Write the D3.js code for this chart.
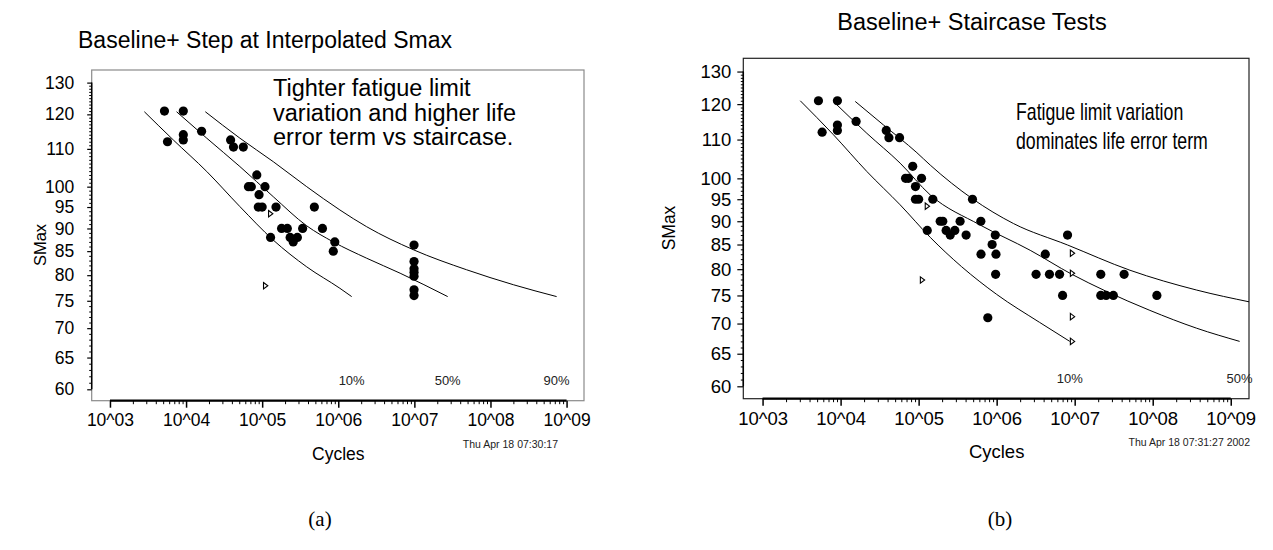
<!DOCTYPE html>
<html>
<head>
<meta charset="utf-8">
<script src="https://cdn.jsdelivr.net/npm/d3@7"></script>
<style>
  body { margin: 0; background: #fff; }
  svg { display: block; font-family: "Liberation Sans", Arial, sans-serif; }
</style>
</head>
<body>
<svg id="chart" width="1273" height="550"></svg>
<script>
// axis ticks
const xTickValues = [1e3, 1e4, 1e5, 1e6, 1e7, 1e8, 1e9];
const xTickLabels = ["10^03", "10^04", "10^05", "10^06", "10^07", "10^08", "10^09"];
const yTickValues = [60, 65, 70, 75, 80, 85, 90, 95, 100, 110, 120, 130];

// (a) step at interpolated Smax : failures [cycles, Smax]
const stepFailures = [
  [5.2e3, 121], [5.7e3, 112], [9.2e3, 121], [9.2e3, 114], [9.2e3, 112.5],
  [1.6e4, 115], [3.85e4, 112.5], [4.2e4, 110.5], [5.65e4, 110.5], [8.5e4, 103],
  [6.6e4, 100], [7.2e4, 100], [1.09e5, 100], [9.1e4, 98], [8.9e4, 95], [1.0e5, 95],
  [1.52e5, 95], [1.29e5, 88], [1.8e5, 90], [2.14e5, 90], [2.33e5, 88], [2.56e5, 87],
  [2.9e5, 88], [3.4e5, 90], [4.85e5, 95], [6.2e5, 90], [9.0e5, 87], [8.6e5, 85],
  [9.9e6, 86.3], [9.9e6, 82.8], [9.9e6, 81.3], [9.9e6, 80.6], [9.9e6, 79.8],
  [9.9e6, 77.1], [9.9e6, 76.0]
];
const stepRunouts = [[1.27e5, 93.4], [1.09e5, 77.9]];
const stepCurve10 = [[2.83e3, 120.8], [6.8e3, 112.5], [1.87e4, 103.9], [5.1e4, 95.1], [1.4e5, 87.4], [3.85e5, 81.7], [1.05e6, 77.4], [1.5e6, 75.8]];
const stepCurve50 = [[7.5e3, 120.8], [1.87e4, 113.0], [5.1e4, 105.2], [1.4e5, 97.5], [3.85e5, 90.6], [8.6e5, 87.0], [2.36e6, 83.5], [6.5e6, 80.4], [2.74e7, 75.8]];
const stepCurve90 = [[1.79e4, 120.8], [5.1e4, 113.0], [1.4e5, 106.5], [3.85e5, 100.0], [1.05e6, 94.3], [2.36e6, 90.4], [9.7e6, 85.3], [4.86e7, 81.1], [2.0e8, 78.1], [7.4e8, 75.8]];
const stepCurveLabels = ["10%", "50%", "90%"];

// (b) staircase tests
const stairFailures = [
  [5.2e3, 121], [5.8e3, 112], [9.1e3, 121], [9.1e3, 114], [9.1e3, 112.5],
  [1.58e4, 115], [3.85e4, 112.5], [4.16e4, 110.5], [5.7e4, 110.5], [8.4e4, 103],
  [6.8e4, 100], [7.4e4, 100], [1.09e5, 100], [9.1e4, 98], [9.1e4, 95], [1.0e5, 95],
  [1.52e5, 95], [1.29e5, 88], [1.89e5, 90], [2.04e5, 90], [2.25e5, 88], [2.54e5, 87],
  [2.91e5, 88], [3.4e5, 90], [4.06e5, 87], [4.9e5, 95], [6.27e5, 90], [9.6e5, 87],
  [8.75e5, 85], [6.3e5, 83], [9.8e5, 83], [9.7e5, 79], [7.7e5, 71],
  [4.2e6, 83], [8.1e6, 87], [3.2e6, 79], [4.75e6, 79], [6.4e6, 79], [7.0e6, 75],
  [2.16e7, 79], [4.3e7, 79], [2.16e7, 75], [2.53e7, 75], [3.13e7, 75], [1.13e8, 75]
];
const stairRunouts = [[1.27e5, 93.4], [1.1e5, 77.9], [9.2e6, 83.2], [9.2e6, 79.2], [9.2e6, 71.2], [9.2e6, 67.0]];
const stairCurve10 = [[3.04e3, 121.0], [8.1e3, 111.3], [2.17e4, 101.7], [5.8e4, 93.7], [1.41e5, 86.5], [3.55e5, 80.5], [1.0e6, 75.2], [3.55e6, 70.2], [8.65e6, 67.0]];
const stairCurve50 = [[8.5e3, 120.3], [2.17e4, 111.7], [5.8e4, 103.8], [1.41e5, 96.0], [6.1e5, 89.2], [2.69e6, 83.8], [9.2e6, 79.0], [2.51e7, 75.8], [9.2e7, 72.3], [3.66e8, 69.2], [1.3e9, 67.0]];
const stairCurve90 = [[1.54e4, 120.8], [3.55e4, 114.0], [9.5e4, 106.5], [1.41e5, 103.3], [4.9e5, 95.1], [1.64e6, 89.5], [8.1e6, 84.9], [5.1e7, 79.8], [3.66e8, 76.0], [1.77e9, 73.8]];
const stairCurveLabels = ["10%", "50%"];

const svg = d3.select("#chart");

function drawPanel(p) {
  const x = d3.scaleLog().domain(p.xDomain).range([p.left, p.right]);
  const y = d3.scaleLog().domain(p.yDomain).range([p.bottom, p.top]);
  const g = svg.append("g");

  const clipId = "clip-" + p.id;
  g.append("clipPath").attr("id", clipId)
    .append("rect")
    .attr("x", p.left).attr("y", p.top)
    .attr("width", p.right - p.left).attr("height", p.bottom - p.top);

  // frame
  g.append("rect")
    .attr("x", p.left).attr("y", p.top)
    .attr("width", p.right - p.left).attr("height", p.bottom - p.top)
    .attr("fill", "none")
    .attr("stroke", p.frameColor)
    .attr("stroke-width", 1.2);

  // x axis : major + minor log ticks
  const minorX = [];
  for (let k = 3; k < 9; k++) for (let m = 2; m <= 9; m++) minorX.push(m * Math.pow(10, k));

  const xMajor = g.append("g")
    .attr("transform", `translate(0,${p.bottom})`)
    .call(d3.axisBottom(x).tickValues(xTickValues)
      .tickFormat((d, i) => xTickLabels[i]).tickSize(7).tickPadding(6));
  xMajor.select(".domain").remove();
  xMajor.selectAll(".tick line").attr("stroke", "#000").attr("stroke-width", 1.5);
  xMajor.selectAll(".tick text")
    .attr("font-size", p.tickFont + "px")
    .attr("font-family", "Liberation Sans, Arial, sans-serif")
    .attr("fill", "#000");

  const xMinor = g.append("g")
    .attr("transform", `translate(0,${p.bottom})`)
    .call(d3.axisBottom(x).tickValues(minorX).tickFormat("").tickSize(3.5));
  xMinor.select(".domain").remove();
  xMinor.selectAll(".tick line").attr("stroke", "#000");

  g.append("line")
    .attr("x1", x(1e3)).attr("x2", x(1e9))
    .attr("y1", p.bottom).attr("y2", p.bottom)
    .attr("stroke", "#000").attr("stroke-width", 2.2);

  // y axis : major + minor ticks
  const minorY = d3.range(60, 131).filter((v) => !yTickValues.includes(v));
  const yMajor = g.append("g")
    .attr("transform", `translate(${p.left},0)`)
    .call(d3.axisLeft(y).tickValues(yTickValues).tickFormat(d3.format("d"))
      .tickSize(p.yTickLen).tickPadding(p.yPad));
  yMajor.select(".domain").remove();
  yMajor.selectAll(".tick line").attr("stroke", "#000").attr("stroke-width", 1.2);
  yMajor.selectAll(".tick text")
    .attr("font-size", p.tickFont + "px")
    .attr("font-family", "Liberation Sans, Arial, sans-serif")
    .attr("fill", "#000");

  const yMinor = g.append("g")
    .attr("transform", `translate(${p.left},0)`)
    .call(d3.axisLeft(y).tickValues(minorY).tickFormat("").tickSize(2.5));
  yMinor.select(".domain").remove();
  yMinor.selectAll(".tick line").attr("stroke", "#000");

  g.append("line")
    .attr("x1", p.left).attr("x2", p.left)
    .attr("y1", y(60)).attr("y2", y(130))
    .attr("stroke", "#000").attr("stroke-width", 1.5);

  // axis titles
  g.append("text")
    .attr("x", (x(1e3) + x(1e9)) / 2)
    .attr("y", p.bottom + 59)
    .attr("text-anchor", "middle")
    .attr("font-size", p.tickFont + "px")
    .text("Cycles");

  g.append("text")
    .attr("transform", `translate(${p.yLabelX},${p.yLabelY}) rotate(-90)`)
    .attr("text-anchor", "middle")
    .attr("font-size", (p.tickFont - 1) + "px")
    .text("SMax");

  // quantile curves
  const line = d3.line()
    .x((d) => x(d[0]))
    .y((d) => y(d[1]))
    .curve(d3.curveMonotoneX);

  g.append("g").attr("clip-path", `url(#${clipId})`)
    .selectAll("path.curve")
    .data(p.curves)
    .join("path")
    .attr("class", "curve")
    .attr("d", line)
    .attr("fill", "none")
    .attr("stroke", "#000")
    .attr("stroke-width", 1);

  // percent labels at the end of each curve
  g.selectAll("text.pct")
    .data(p.curveLabels)
    .join("text")
    .attr("class", "pct")
    .attr("x", (d, i) => x(p.curves[i][p.curves[i].length - 1][0]))
    .attr("y", p.bottom - 16)
    .attr("text-anchor", "middle")
    .attr("font-size", "13px")
    .attr("fill", "#222")
    .text((d) => d);

  // failures
  g.selectAll("circle.fail")
    .data(p.failures)
    .join("circle")
    .attr("class", "fail")
    .attr("cx", (d) => x(d[0]))
    .attr("cy", (d) => y(d[1]))
    .attr("r", 4.6)
    .attr("fill", "#000");

  // runouts (open right-pointing triangles)
  g.selectAll("path.runout")
    .data(p.runouts)
    .join("path")
    .attr("class", "runout")
    .attr("transform", (d) => `translate(${x(d[0])},${y(d[1])})`)
    .attr("d", "M-1.5,-3.2 L2.8,0 L-1.5,3.2 Z")
    .attr("fill", "#fff")
    .attr("stroke", "#000")
    .attr("stroke-width", 1.1);

  // title
  g.append("text")
    .attr("x", p.titleX)
    .attr("y", p.titleY)
    .attr("text-anchor", "middle")
    .attr("font-size", p.titleFont + "px")
    .text(p.title);

  // note (squeezed horizontally where the original text is narrower)
  g.append("text")
    .attr("transform", `translate(${p.noteX},${p.noteY}) scale(${p.noteSqueeze},1)`)
    .attr("font-size", p.noteFont + "px")
    .selectAll("tspan")
    .data(p.note)
    .join("tspan")
    .attr("x", 0)
    .attr("y", (d, i) => i * p.noteStep)
    .text((d) => d);

  // time stamp
  g.append("text")
    .attr("x", p.stampX)
    .attr("y", p.bottom + 47)
    .attr("text-anchor", "end")
    .attr("font-size", "10.5px")
    .attr("fill", "#222")
    .text(p.stamp);

  // caption
  g.append("text")
    .attr("x", p.captionX)
    .attr("y", 526)
    .attr("text-anchor", "middle")
    .attr("font-family", "Liberation Serif, Times New Roman, serif")
    .attr("font-size", "21px")
    .text(p.caption);
}

drawPanel({
  id: "a",
  left: 91.7, right: 584, top: 70, bottom: 400.7,
  xDomain: [Math.pow(10, 2.76), Math.pow(10, 9.229)],
  yDomain: [58.3, 134.2],
  frameColor: "#8a8a8a",
  tickFont: 17.5, yTickLen: 4.5, yPad: 13,
  yLabelX: 46, yLabelY: 245,
  curves: [stepCurve10, stepCurve50, stepCurve90],
  curveLabels: stepCurveLabels,
  failures: stepFailures,
  runouts: stepRunouts,
  title: "Baseline+ Step at Interpolated Smax",
  titleX: 265, titleY: 48, titleFont: 23,
  note: ["Tighter fatigue limit", "variation and higher life", "error term vs staircase."],
  noteX: 273, noteY: 96, noteStep: 24.5, noteFont: 23.5, noteSqueeze: 1,
  stamp: "Thu Apr 18 07:30:17", stampX: 558,
  caption: "(a)", captionX: 320
});

drawPanel({
  id: "b",
  left: 743.3, right: 1249, top: 58.3, bottom: 398.7,
  xDomain: [Math.pow(10, 2.753), Math.pow(10, 9.234)],
  yDomain: [58.2, 134.3],
  frameColor: "#222",
  tickFont: 18.5, yTickLen: 6, yPad: 6,
  yLabelX: 675, yLabelY: 228,
  curves: [stairCurve10, stairCurve50, stairCurve90],
  curveLabels: stairCurveLabels,
  failures: stairFailures,
  runouts: stairRunouts,
  title: "Baseline+ Staircase Tests",
  titleX: 972, titleY: 30, titleFont: 23.5,
  note: ["Fatigue limit variation", "dominates life error term"],
  noteX: 1016, noteY: 120, noteStep: 29, noteFont: 23, noteSqueeze: 0.77,
  stamp: "Thu Apr 18 07:31:27 2002", stampX: 1250,
  caption: "(b)", captionX: 1000
});
</script>
</body>
</html>
